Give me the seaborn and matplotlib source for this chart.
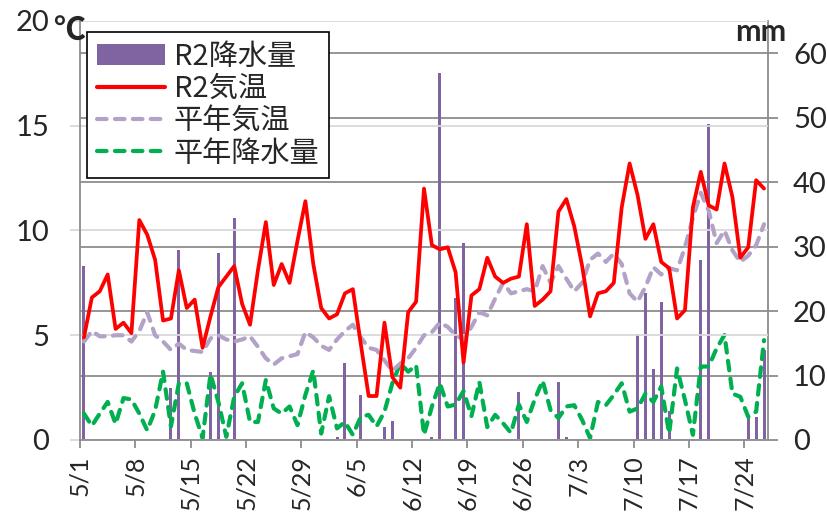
import numpy as np
import pandas as pd
import matplotlib
matplotlib.use("Agg")
import matplotlib.pyplot as plt
import seaborn as sns
from matplotlib.patches import Patch
from matplotlib.lines import Line2D

# daily values, 2020/5/1 - 7/26
dates = pd.date_range("2020-05-01", "2020-07-26")
days = np.arange(len(dates))
day_labels = [f"{d.month}/{d.day}" for d in dates]

# R2 気温 (℃)
temp = [4.9, 6.8, 7.1, 7.9, 5.3, 5.6, 5.1, 10.5, 9.8, 8.6,
        5.7, 5.8, 8.1, 6.3, 6.7, 4.4, 5.9, 7.3, 7.8, 8.3,
        6.5, 5.5, 8.1, 10.4, 7.4, 8.4, 7.5, 9.5, 11.4, 8.4,
        6.3, 5.8, 6.0, 7.0, 7.2, 4.6, 2.1, 2.1, 5.6, 3.0,
        2.5, 6.1, 6.6, 12.0, 9.3, 9.1, 9.2, 8.0, 3.7, 6.9,
        7.2, 8.7, 7.8, 7.5, 7.7, 7.8, 10.3, 6.4, 6.7, 7.1,
        10.9, 11.5, 10.2, 8.3, 5.9, 7.0, 7.1, 7.5, 11.1, 13.2,
        11.7, 9.6, 10.3, 8.5, 8.2, 5.8, 6.2, 11.1, 12.8, 11.2,
        11.0, 13.2, 11.6, 8.7, 9.2, 12.4, 12.0]

# 平年気温 (℃)
temp_normal = [4.7, 5.2, 4.95, 4.95, 5.0, 5.0, 4.7, 5.2, 6.1, 5.0,
               4.7, 4.3, 4.6, 4.3, 4.25, 4.2, 4.85, 5.0, 4.8, 4.7,
               4.8, 4.95, 4.45, 3.9, 3.6, 3.9, 4.0, 4.1, 5.15, 4.9,
               4.5, 4.3, 4.8, 5.2, 5.5, 4.9, 4.4, 4.3, 3.8, 3.3,
               3.65, 3.9, 4.4, 5.0, 5.15, 5.6, 5.4, 5.0, 4.8, 5.4,
               6.1, 5.95, 6.75, 7.5, 7.0, 7.1, 7.2, 7.1, 8.3, 7.5,
               8.3, 7.7, 7.1, 7.5, 8.6, 8.9, 8.5, 8.9, 8.4, 7.0,
               6.6, 7.3, 8.25, 7.9, 8.2, 8.1, 9.2, 10.6, 11.8, 10.95,
               9.4, 10.0, 9.05, 8.5, 8.8, 9.3, 10.3]

# 平年降水量 (mm)
rain_normal = [4.1, 2.2, 4.1, 5.9, 2.5, 6.5, 6.3, 4.1, 1.5, 4.6,
               10.6, 2.1, 8.8, 8.8, 4.1, 0.3, 10.2, 5.9, 0.5, 6.7,
               8.8, 2.8, 2.8, 9.3, 4.9, 4.1, 5.2, 2.3, 7.0, 10.8,
               1.0, 6.8, 1.8, 2.8, 0.8, 3.6, 3.9, 2.1, 4.4, 8.8,
               11.9, 10.6, 11.6, 0.8, 5.2, 8.8, 5.2, 5.5, 7.6, 3.7,
               9.0, 2.0, 3.9, 2.6, 1.1, 5.5, 2.8, 6.3, 9.2, 4.65,
               3.4, 5.2, 5.4, 3.1, 0.3, 5.9, 5.4, 7.0, 8.8, 4.4,
               4.9, 7.2, 5.9, 8.3, 1.0, 11.1, 6.2, 0.8, 11.4, 11.4,
               14.2, 16.3, 7.2, 6.7, 3.6, 4.4, 15.5]

# R2 降水量 (mm), only rainy days
rain = [0.0] * len(days)
rain_days = {0: 27, 11: 8, 12: 29.5, 16: 10.5, 17: 29, 19: 34.5,
             32: 0.5, 33: 12, 35: 7, 38: 2, 39: 3, 44: 0.5, 45: 57,
             47: 22, 48: 30.5, 55: 7.5, 60: 9, 61: 0.5, 70: 16.5,
             71: 22.8, 72: 11, 73: 21.4, 74: 4.5, 78: 28, 79: 49,
             84: 3.5, 85: 3.5, 86: 14}
for k, v in rain_days.items():
    rain[k] = v

purple = "#8064A2"
red = "#FF0000"
lavender = "#B3A2C7"
green = "#00B050"
dash = (0, (2.3, 2.0))

sns.set_style("white")
plt.rcParams["font.family"] = ["Lato", "Noto Sans CJK JP", "DejaVu Sans"]

fig = plt.figure(figsize=(8.27, 5.13), dpi=100)
ax_t = fig.add_axes([80 / 827, 1 - 440 / 513, 688 / 827, 419 / 513])
ax_p = ax_t.twinx()
ax_t.set_zorder(ax_p.get_zorder() + 1)
ax_t.patch.set_visible(False)

sns.barplot(x=days, y=rain, ax=ax_p, color=purple, saturation=1,
            width=0.38, native_scale=True, linewidth=0)
sns.lineplot(x=days, y=rain_normal, ax=ax_p, color=green, linewidth=3.0,
             linestyle=dash, dash_capstyle="round", zorder=3)
sns.lineplot(x=days, y=temp_normal, ax=ax_t, color=lavender, linewidth=3.0,
             linestyle=dash, dash_capstyle="round")
sns.lineplot(x=days, y=temp, ax=ax_t, color=red, linewidth=2.7)

ax_t.set_xlim(-0.5, len(days) - 0.5)
ax_t.set_ylim(0, 20)
ax_p.set_ylim(0, 65)
ax_t.set_xticks(days[::7] - 0.5)
ax_t.set_xticklabels(day_labels[::7], rotation=90)
ax_t.set_yticks([0, 5, 10, 15, 20])
ax_p.set_yticks(range(0, 61, 10))
for a in (ax_t, ax_p):
    a.set_xlabel("")
    a.set_ylabel("")

ax_t.yaxis.grid(True, color="#D9D9D9", linewidth=1.3)
ax_t.xaxis.grid(False)
ax_p.yaxis.grid(True, color="#8C8C8C", linewidth=1.3)
ax_p.xaxis.grid(False)
ax_p.set_axisbelow(True)

ax_t.tick_params(axis="y", left=True, length=7, width=1.3, color="#D9D9D9",
                 labelsize=21, pad=15)
ax_t.tick_params(axis="x", bottom=True, length=6, width=1.3, color="#8C8C8C",
                 labelsize=18, pad=5)
ax_p.tick_params(axis="y", right=True, length=7, width=1.3, color="#8C8C8C",
                 labelsize=21, pad=11)

for s in ("top", "right"):
    ax_t.spines[s].set_visible(False)
for s in ("top", "left", "bottom"):
    ax_p.spines[s].set_visible(False)
for sp in (ax_t.spines["left"], ax_t.spines["bottom"], ax_p.spines["right"]):
    sp.set_color("#8C8C8C")
    sp.set_linewidth(1.3)

fig.text(69 / 827, 1 - 32 / 513, "℃", ha="center", va="center",
         fontsize=23, fontweight="bold", family=["Noto Sans CJK JP"])
fig.text(761 / 827, 1 - 32 / 513, "mm", ha="center", va="center",
         fontsize=22, fontweight="bold")

handles = [Patch(facecolor=purple, edgecolor="none"),
           Line2D([], [], color=red, linewidth=3),
           Line2D([], [], color=lavender, linewidth=3, linestyle=dash,
                  dash_capstyle="round"),
           Line2D([], [], color=green, linewidth=3, linestyle=dash,
                  dash_capstyle="round")]
names = ["R2降水量", "R2気温", "平年気温", "平年降水量"]
leg = fig.legend(handles, names, loc="upper left",
                 bbox_to_anchor=(87 / 827, 1 - 32 / 513),
                 bbox_transform=fig.transFigure, borderaxespad=0,
                 fancybox=False, edgecolor="black", framealpha=1,
                 prop={"family": ["Noto Sans CJK JP"], "size": 21},
                 handlelength=2.35, handletextpad=0.3, labelspacing=0.08,
                 borderpad=0.33)
leg.get_frame().set_linewidth(1.2)

fig.savefig("out.png", dpi=100)
